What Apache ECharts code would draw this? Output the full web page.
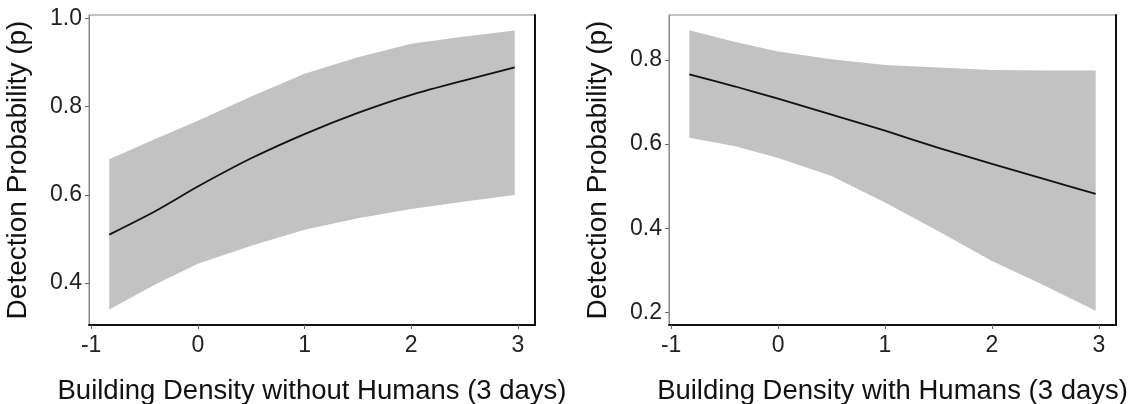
<!DOCTYPE html>
<html>
<head>
<meta charset="utf-8">
<script src="https://cdn.jsdelivr.net/npm/echarts@6/dist/echarts.min.js"></script>
<style>
  html, body { margin: 0; padding: 0; background: #fff; }
  #chart { width: 1131px; height: 404px; }
</style>
</head>
<body>
<div id="chart"></div>
<script>
// Building density (standardised) at which the model was evaluated
const densityX = [-0.83, -0.4, 0, 0.5, 1, 1.5, 2, 2.5, 2.97];

// Panel 1: without humans
const pNoHumans      = [0.510, 0.563, 0.619, 0.683, 0.738, 0.786, 0.827, 0.860, 0.889];
const lowerNoHumans  = [0.340, 0.397, 0.444, 0.485, 0.521, 0.547, 0.568, 0.585, 0.600];
const upperNoHumans  = [0.681, 0.727, 0.768, 0.823, 0.875, 0.912, 0.943, 0.959, 0.973];

// Panel 2: with humans
const pHumans        = [0.766, 0.737, 0.708, 0.670, 0.632, 0.591, 0.553, 0.516, 0.482];
const lowerHumans    = [0.615, 0.595, 0.567, 0.524, 0.461, 0.393, 0.322, 0.263, 0.204];
const upperHumans    = [0.871, 0.843, 0.820, 0.802, 0.788, 0.782, 0.776, 0.775, 0.775];

const xTicks = [-1, 0, 1, 2, 3];
const yTicksNoHumans = [0.4, 0.6, 0.8, 1.0];
const yTicksHumans = [0.2, 0.4, 0.6, 0.8];

const xTitles = ['Building Density without Humans (3 days)', 'Building Density with Humans (3 days)'];
const yTitle = 'Detection Probability (p)';

const FONT = '"Liberation Sans", Arial, sans-serif';
const RIBBON = '#c2c2c2';

const pairs = (xs, ys) => xs.map((x, i) => [x, ys[i]]);

function xAxisFor(idx) {
  return {
    type: 'value', gridIndex: idx, min: -1.02, max: 3.16,
    name: xTitles[idx], nameLocation: 'middle', nameGap: 52,
    nameTextStyle: { fontFamily: FONT, fontSize: 27.5, color: '#111' },
    axisLine: { show: true, onZero: false, lineStyle: { color: '#111', width: 2 } },
    axisTick: { show: true, length: 4, customValues: xTicks, lineStyle: { color: '#666' } },
    axisLabel: { customValues: xTicks, margin: 9, fontFamily: FONT, fontSize: 23, color: '#222',
                 formatter: v => String(v) },
    splitLine: { show: false }
  };
}

function yAxisFor(idx, min, max, ticks) {
  return {
    type: 'value', gridIndex: idx, min: min, max: max,
    name: yTitle, nameLocation: 'middle', nameGap: 57,
    nameTextStyle: { fontFamily: FONT, fontSize: 28, color: '#111' },
    axisLine: { show: true, onZero: false, lineStyle: { color: '#888', width: 1 } },
    axisTick: { show: true, length: 4, customValues: ticks, lineStyle: { color: '#666' } },
    axisLabel: { customValues: ticks, margin: 7, fontFamily: FONT, fontSize: 23, color: '#222',
                 formatter: v => v.toFixed(1) },
    splitLine: { show: false }
  };
}

// Right-hand frame edge drawn as a bare axis line
function rightEdge(idx, min, max) {
  return {
    type: 'value', gridIndex: idx, position: 'right', min: min, max: max,
    axisLine: { show: true, onZero: false, lineStyle: { color: '#111', width: 2 } },
    axisTick: { show: false }, axisLabel: { show: false }, splitLine: { show: false },
    z: 5
  };
}

// Confidence ribbon: one polygon built from the upper edge and the reversed lower edge
function ribbonSeries(idx, yAxisIdx, lower, upper) {
  const rows = densityX.map((x, i) => [x, lower[i], upper[i]]);
  return {
    type: 'custom', xAxisIndex: idx, yAxisIndex: yAxisIdx, silent: true, z: 1,
    data: rows,
    encode: { x: 0, y: [1, 2] },
    clip: true,
    renderItem: function (params, api) {
      if (params.dataIndex !== 0) return null;
      const top = rows.map(r => api.coord([r[0], r[2]]));
      const bottom = rows.map(r => api.coord([r[0], r[1]])).reverse();
      return {
        type: 'polygon',
        shape: { points: top.concat(bottom) },
        style: { fill: RIBBON, stroke: null }
      };
    }
  };
}

function fitSeries(idx, yAxisIdx, vals) {
  return {
    type: 'line', xAxisIndex: idx, yAxisIndex: yAxisIdx,
    data: pairs(densityX, vals), symbol: 'none', smooth: 0.25,
    lineStyle: { color: '#111', width: 1.8 }, z: 3
  };
}

const gridBase = { top: 15, bottom: 79, show: true, borderColor: '#888', borderWidth: 1,
                   containLabel: false, outerBoundsMode: 'none' };

const chart = echarts.init(document.getElementById('chart'), null, { renderer: 'canvas' });
chart.setOption({
  animation: false,
  backgroundColor: '#fff',
  grid: [
    Object.assign({ left: 89, right: 596 }, gridBase),
    Object.assign({ left: 669, right: 15 }, gridBase)
  ],
  xAxis: [xAxisFor(0), xAxisFor(1)],
  yAxis: [
    yAxisFor(0, 0.305, 1.008, yTicksNoHumans),
    yAxisFor(1, 0.17, 0.907, yTicksHumans),
    rightEdge(0, 0.305, 1.008),
    rightEdge(1, 0.17, 0.907)
  ],
  series: [
    ribbonSeries(0, 0, lowerNoHumans, upperNoHumans),
    fitSeries(0, 0, pNoHumans),
    ribbonSeries(1, 1, lowerHumans, upperHumans),
    fitSeries(1, 1, pHumans)
  ]
});
</script>
</body>
</html>
